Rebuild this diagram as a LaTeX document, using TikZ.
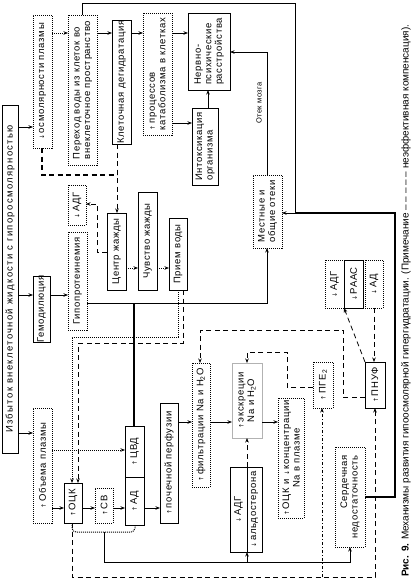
\documentclass[tikz,border=0pt]{standalone}
\usepackage{graphicx}
\usepackage{fontspec}
\setmainfont{Liberation Sans}
\newfontfamily\symf{DejaVu Sans}
\usetikzlibrary{arrows.meta}
\newcommand\myup{{\symf\fontsize{6}{6}\selectfont ↑}\,}
\newcommand\mydn{{\symf\fontsize{6}{6}\selectfont ↓}\,}
\newcommand\mybox[8][]{%
  \node[#2, minimum width={(#6-#4)*1pt}, minimum height={(#7-#5)*1pt}] (#3) at ({(#4+#6)/2},{(#5+#7)/2}) {};
  \node[txt,#1] (#3-t) at (#3.center) {#8};}
\begin{document}
\begin{tikzpicture}[x=1pt,y=-1pt,
  sbox/.style={draw, line width=0.8pt, inner sep=0pt, outer sep=0pt},
  dbox/.style={draw, line width=1pt, dash pattern=on 1pt off 1pt, inner sep=0pt, outer sep=0pt},
  gbox/.style={draw=gray!60, line width=0.8pt, inner sep=0pt, outer sep=0pt},
  txt/.style={rotate=90, align=left, inner sep=0pt, font=\fontsize{9.5}{10.5}\selectfont\addfontfeature{LetterSpace=7}},
  arr/.style={-{Stealth[length=4.5pt,width=3.5pt]}, line width=0.8pt},
  darr/.style={line width=1pt, dash pattern=on 1pt off 1pt, -{Stealth[length=4.5pt,width=3.5pt]}},
  dotl/.style={line width=1pt, dash pattern=on 1pt off 1pt},
  thk/.style={line width=1.7pt},
  dsh/.style={line width=1.5pt, dash pattern=on 5pt off 3.5pt},
  ddot/.style={line width=1.2pt, dash pattern=on 3pt off 2pt on 1pt off 2pt}
]
\useasboundingbox (0,0) rectangle (417,579);
% boxes
\mybox[font=\fontsize{9.5}{10.5}\selectfont\addfontfeature{LetterSpace=14}]{sbox}{big}{2}{105}{18}{453}{Избыток внеклеточной жидкости с гипоросмолярностью}
\mybox{dbox}{osm}{33}{15}{52}{148}{\mydn осмолярности плазмы}
\mybox{dbox}{per}{68}{15}{97}{165}{Переход воды из клеток во\\внеклеточное пространство}
\mybox{sbox}{klet}{112}{20}{131}{144}{Клеточная дегидратация}
\mybox{dbox}{kat}{143}{13}{172}{135}{\myup процессов\\катаболизма в клетках}
\mybox{sbox}{nerv}{188}{13}{230}{90}{Нервно-\\психические\\расстройства}
\mybox{sbox}{intox}{192}{108}{218}{185}{Интоксикация\\организма}
\mybox{dbox}{mest}{253}{175}{282}{248}{Местные и\\общие отеки}
\mybox{dbox}{adg}{68}{185}{86}{225}{\mydn АДГ}
\mybox{sbox}{centr}{107}{213}{126}{290}{Центр жажды}
\mybox{sbox}{chuv}{138}{192}{157}{290}{Чувство жажды}
\mybox{sbox}{priem}{169}{218}{187}{290}{Прием воды}
\mybox{dbox}{gip}{68}{232}{87}{330}{Гипопротеинемия}
\mybox{sbox}{gem}{33}{276}{50}{342}{Гемодилюция}
\mybox{dbox}{obem}{33}{408}{52}{523}{\myup Объема плазмы}
\mybox{sbox}{ock}{64}{483}{82}{523}{\myup ОЦК}
\mybox{dbox}{sv}{95}{488}{113}{523}{\myup СВ}
\mybox{sbox}{cvd}{125}{426}{144}{477}{\myup ЦВД}
\mybox{sbox}{ad}{125}{477}{144}{525}{\myup АД}
\mybox{sbox}{poch}{160}{403}{178}{523}{\myup почечной перфузии}
\mybox{dbox}{filtr}{192}{363}{210}{487}{\myup фильтрации Na и H\textsubscript{2}O}
\mybox[align=center]{gbox}{eks}{232}{363}{262}{438}{\myup экскреции\\Na и H\textsubscript{2}O}
\mybox{sbox}{adgA}{230}{467}{247}{552}{\mydn АДГ}
\mybox{sbox}{ald}{247}{467}{262}{552}{\mydn альдостерона}
\mybox[align=center]{dbox}{ockc}{278}{398}{304}{518}{\myup ОЦК и \mydn концентрации\\Na в плазме}
\mybox{dbox}{pge}{313}{362}{333}{408}{\myup ПГЕ\textsubscript{2}}
\mybox{sbox}{pnuf}{365}{362}{385}{408}{\myup ПНУФ}
\mybox[align=right]{dbox}{serd}{335}{447}{365}{547}{Сердечная\\недостаточность}
\mybox{dbox}{adgB}{325}{260}{344}{308}{\mydn АДГ}
\mybox{sbox}{raas}{344}{260}{363}{308}{\mydn РААС}
\mybox{dbox}{ad2}{365}{260}{383}{308}{\mydn АД}
% junctions
\coordinate (j1) at (295,213);
\coordinate (j2) at (134,303);
\coordinate (j3) at (117,175);
\coordinate (j4) at (104,532);
\coordinate (j5) at (247,562);
\coordinate (j6) at (322,577);
% connectors
\draw[arr] (big.east |- 0,127) -- (osm.west |- 0,127);
\draw[arr] (big.east |- 0,295) -- (gem.west |- 0,295);
\draw[arr] (big.east |- 0,433) -- (obem.west |- 0,433);
\draw[darr] (osm.east |- 0,33) -- (per.west |- 0,33);
\draw[arr] (per.east |- 0,33) -- (klet.west |- 0,33);
\draw[arr] (klet.east |- 0,33) -- (kat.west |- 0,33);
\draw[arr] (kat.east |- 0,33) -- (nerv.west |- 0,33);
\draw[arr] (kat.east |- 0,123) -- (intox.west |- 0,123);
\draw[arr] (intox.north -| 208,0) -- (nerv.south -| 208,0);
\draw[thk,arr] (per.north) |- (295,3) -- (j1) -- (mest.east |- j1);
\draw[thk] (serd.east |- 0,497) -| (395,213) -- (j1);
\draw[thk,arr] (mest.north -| 267,0) |- (nerv.east |- 0,52);
\node[rotate=90, inner sep=0pt, font=\fontsize{7.5}{8}\selectfont\addfontfeature{LetterSpace=6}] (otek) at (259,103) {Отек мозга};
\draw[thk,arr] (gip.east |- j2) -| (mest.south -| 267,0);
\draw[thk] (cvd.north -| j2) -- (j2);
\draw[dsh] (osm.south -| 42,0) |- (j3);
\draw[dsh,arr] (klet.south -| j3) -- (centr.north -| j3);
\draw[dsh,arr] (centr.west |- 0,252) -| (97,204) -- (adg.east |- 0,204);
\draw[darr] (centr.east |- 0,268) -- (chuv.west |- 0,268);
\draw[darr] (chuv.east |- 0,268) -- (priem.west |- 0,268);
\draw[dotl,arr] (priem.south -| 178,0) |- (72,337) -- (ock.north -| 72,0);
\draw[dsh,arr] (priem.south -| 183,0) |- (78,343) -- (ock.north -| 78,0);
\draw[arr] (gem.east |- 0,295) -- (gip.west |- 0,295);
\draw[darr] (obem.east |- 0,450) -- (cvd.west |- 0,450);
\draw[arr] (obem.east |- 0,508) -- (ock.west |- 0,508);
\draw[arr] (ock.east |- 0,508) -- (sv.west |- 0,508);
\draw[arr] (sv.east |- 0,508) -- (ad.west |- 0,508);
\draw[arr] (ad.east |- 0,508) -- (poch.west |- 0,508);
\draw[arr] (poch.east |- 0,422) -- (filtr.west |- 0,422);
\draw[arr] (filtr.east |- 0,422) -- (eks.west |- 0,422);
\draw[arr] (eks.east |- 0,422) -- (ockc.west |- 0,422);
\draw[dsh,arr] (adgA.north east) -- (eks.south -| adgA.north east);
\draw[dsh,arr] (pnuf.west |- 0,397) -| (343,330) -| (filtr.north -| 200,0);
\draw[dsh,arr] (pge.west |- 0,387) -| (287,352) -| (eks.north -| 247,0);
\draw[dsh,arr] (pnuf.north west) -- (adgB.south east);
\draw[dsh,arr] (ad2.south) -- (pnuf.north -| ad2.south);
\draw[dotl, rounded corners=4pt] (ock.south -| 72,0) -- (72,532) -- (135,532) -- (ad.south -| 135,0);
\draw[thk,arr] (j4) |- (350,562) -- (serd.south -| 350,0);
\draw[thk,arr] (j5) -- (adgA.south east);
\draw[dsh,arr] (ock.south -| 72,0) -- (72,577) -| (pnuf.south -| 375,0);
\draw[ddot,arr] (j6) -- (pge.south -| j6);
% caption
\node[rotate=90, anchor=west, inner sep=0pt] (cap) at (406,577) {\resizebox{552pt}{!}{\fontsize{9}{10}\selectfont\textbf{Рис. 9.} Механизмы развития гипоосмолярной гипергидратации. (Примечание -- -- -- -- -- неэффективная компенсация).}};
\end{tikzpicture}
\end{document}
